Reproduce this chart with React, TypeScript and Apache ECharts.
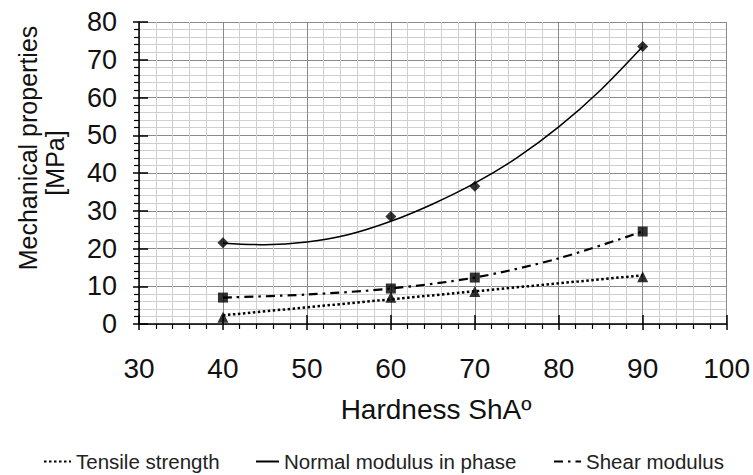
import React, { useEffect, useRef } from "react";
import * as echarts from "echarts";

const hardness = [40, 60, 70, 90];
const tensileStrength = [1.8, 7.1, 8.6, 12.5];
const normalModulus = [21.5, 28.5, 36.5, 73.5];
const shearModulus = [7.0, 9.4, 12.3, 24.5];

// trend lines
const tensileTrendX = [40, 90];
const tensileTrendY = [2.3, 12.9];
const normalTrendX = [40, 45, 50, 55, 60, 65, 70, 75, 80, 85, 90];
const normalTrendY = [21.4, 21.0, 21.7, 23.7, 27.2, 31.8, 37.3, 44.0, 52.2, 62.0, 73.5];
const shearTrendX = [40, 50, 60, 70, 80, 90];
const shearTrendY = [7.0, 7.8, 9.4, 12.3, 17.4, 24.5];

const legendNames = ["Tensile strength", "Normal modulus in phase", "Shear modulus"];
const xTitle = "Hardness ShAº";
const yTitle1 = "Mechanical properties";
const yTitle2 = "[MPa]";

const FONT = "'Liberation Sans', Arial, sans-serif";

const pairs = (xs: number[], ys: number[]) => xs.map((x, i) => [x, ys[i]]);

export default function App() {
  const ref = useRef<HTMLDivElement>(null);
  useEffect(() => {
    if (!ref.current) return;
    const chart = echarts.init(ref.current, null, { renderer: "svg" });
    const gridLeft = 139;
    const gridRight = 25;
    const gridTop = 22;
    const gridBottom = 151;
    const xAxisBase = {
      type: "value",
      min: 30,
      max: 100,
      interval: 10,
      position: "bottom",
    };
    const yAxisBase = {
      type: "value",
      min: 0,
      max: 80,
      interval: 10,
      position: "left",
    };
    const legendBase = {
      top: 451,
      padding: 0,
      itemHeight: 14,
      itemGap: 0,
      itemStyle: { opacity: 0 },
      textStyle: { fontSize: 20.5, color: "#222", fontFamily: FONT },
    };
    chart.setOption({
      animation: false,
      backgroundColor: "#ffffff",
      grid: { left: gridLeft, right: gridRight, top: gridTop, bottom: gridBottom },
      xAxis: [
        {
          ...xAxisBase,
          axisLine: { show: true, lineStyle: { color: "#000", width: 1.5 } },
          axisTick: { show: true, length: 6, lineStyle: { color: "#000", width: 1.5 } },
          minorTick: { show: true, splitNumber: 5, length: 5, lineStyle: { color: "#000", width: 1.2 } },
          axisLabel: { fontSize: 28, color: "#111", fontFamily: FONT, margin: 30 },
          splitLine: { show: true, lineStyle: { color: "#8a8a8a", width: 1 } },
          minorSplitLine: { show: true, lineStyle: { color: "#cfcfcf", width: 1 } },
        },
        {
          ...xAxisBase,
          axisLine: { show: false },
          axisTick: { show: true, inside: true, length: 9, lineStyle: { color: "#000", width: 1.5 } },
          axisLabel: { show: false },
          splitLine: { show: false },
        },
      ],
      yAxis: [
        {
          ...yAxisBase,
          axisLine: { show: true, lineStyle: { color: "#000", width: 1.5 } },
          axisTick: { show: true, length: 6, lineStyle: { color: "#000", width: 1.5 } },
          minorTick: { show: true, splitNumber: 5, length: 5, lineStyle: { color: "#000", width: 1.2 } },
          axisLabel: { fontSize: 27, color: "#111", fontFamily: FONT, margin: 22 },
          splitLine: { show: true, lineStyle: { color: "#8a8a8a", width: 1 } },
          minorSplitLine: { show: true, lineStyle: { color: "#cfcfcf", width: 1 } },
        },
        {
          ...yAxisBase,
          axisLine: { show: false },
          axisTick: { show: true, inside: true, length: 9, lineStyle: { color: "#000", width: 1.5 } },
          axisLabel: { show: false },
          splitLine: { show: false },
        },
      ],
      legend: [
        { ...legendBase, data: [legendNames[0]], left: 43, itemWidth: 27 },
        { ...legendBase, data: [legendNames[1]], left: 255, itemWidth: 23 },
        { ...legendBase, data: [legendNames[2]], left: 553, itemWidth: 27 },
      ],
      graphic: [
        {
          type: "text",
          x: 436,
          y: 409,
          style: {
            text: xTitle,
            fontSize: 28,
            fontFamily: FONT,
            fill: "#111",
            align: "center",
            verticalAlign: "middle",
          },
        },
        {
          type: "text",
          x: 28,
          y: 148,
          rotation: Math.PI / 2,
          style: {
            text: yTitle1,
            fontSize: 25,
            fontFamily: FONT,
            fill: "#111",
            align: "center",
            verticalAlign: "middle",
          },
        },
        {
          type: "text",
          x: 55,
          y: 163,
          rotation: Math.PI / 2,
          style: {
            text: yTitle2,
            fontSize: 25,
            fontFamily: FONT,
            fill: "#111",
            align: "center",
            verticalAlign: "middle",
          },
        },
      ],
      series: [
        {
          name: legendNames[0],
          type: "line",
          symbol: "none",
          data: pairs(tensileTrendX, tensileTrendY),
          lineStyle: { color: "#000", width: 2.5, type: [2.5, 2.5] },
          itemStyle: { color: "#000" },
          z: 3,
        },
        {
          name: legendNames[1],
          type: "line",
          symbol: "none",
          smooth: 0.3,
          data: pairs(normalTrendX, normalTrendY),
          lineStyle: { color: "#000", width: 1.5, type: "solid" },
          itemStyle: { color: "#000" },
          z: 3,
        },
        {
          name: legendNames[2],
          type: "line",
          symbol: "none",
          smooth: 0.3,
          data: pairs(shearTrendX, shearTrendY),
          lineStyle: { color: "#000", width: 2.2, type: [9, 5, 2.5, 5] },
          itemStyle: { color: "#000" },
          z: 3,
        },
        {
          name: "Tensile strength points",
          type: "scatter",
          symbol: "triangle",
          symbolSize: 11,
          data: pairs(hardness, tensileStrength),
          itemStyle: { color: "#000" },
          z: 4,
        },
        {
          name: "Normal modulus points",
          type: "scatter",
          symbol: "diamond",
          symbolSize: 11,
          data: pairs(hardness, normalModulus),
          itemStyle: { color: "#000" },
          z: 4,
        },
        {
          name: "Shear modulus points",
          type: "scatter",
          symbol: "rect",
          symbolSize: 10,
          data: pairs(hardness, shearModulus),
          itemStyle: { color: "#000" },
          z: 4,
        },
      ],
    });
    return () => chart.dispose();
  }, []);
  return <div ref={ref} style={{ width: 753, height: 475, position: "absolute", left: 0, top: 0 }} />;
}
